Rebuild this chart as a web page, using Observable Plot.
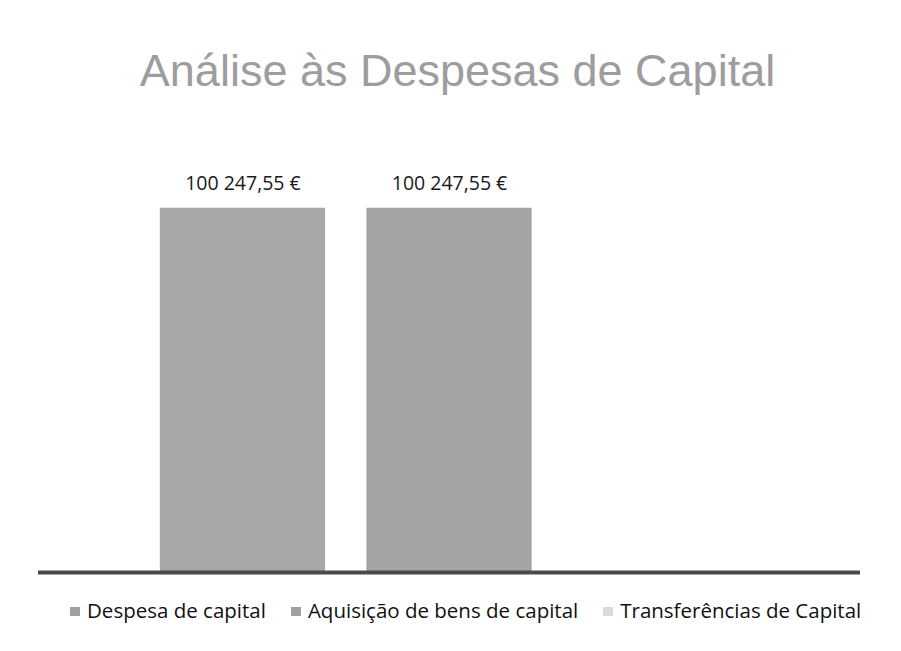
<!DOCTYPE html>
<html>
<head>
<meta charset="utf-8">
<script src="https://cdn.jsdelivr.net/npm/d3@7"></script>
<script src="https://cdn.jsdelivr.net/npm/@observablehq/plot@0.6"></script>
<style>
  html, body { margin: 0; padding: 0; background: #fff; }
  #wrap { width: 901px; height: 651px; position: relative; overflow: hidden; }
  #title { height: 115px; box-sizing: border-box; padding-top: 45px; padding-left: 14px; text-align: center;
    font-family: "Liberation Sans", Arial, sans-serif; font-size: 45px; color: #9d9d9d; line-height: 52px; white-space: nowrap; }
  #chart { height: 465px; }
  #legend { display: flex; justify-content: flex-start; padding-left: 70px; padding-top: 18px;
    font-family: "Open Sans", sans-serif; font-size: 20.5px; color: #111; line-height: 24px; white-space: nowrap; }
  .item { display: flex; align-items: center; margin-right: 25px; }
  .sw { width: 10px; height: 9px; display: inline-block; margin-right: 7px; margin-top: 3px; }
</style>
</head>
<body>
<div id="wrap">
  <div id="title">Análise às Despesas de Capital</div>
  <div id="chart"></div>
  <div id="legend"></div>
</div>
<script>
const series = ["Despesa de capital", "Aquisição de bens de capital", "Transferências de Capital"];
const values = [100247.55, 100247.55, 0];
const colors = ["#a7a7a7", "#a4a4a4", "#d6d6d6"];
const legendColors = ["#a0a0a0", "#a0a0a0", "#d9d9d9"];
const labels = ["100 247,55 €", "100 247,55 €", null];

const data = series.map((s, i) => ({series: s, value: values[i], label: labels[i]}));

const chart = Plot.plot({
  width: 901,
  height: 465,
  marginLeft: 38,
  marginRight: 41,
  marginTop: 21,
  marginBottom: 8,
  x: {type: "band", domain: series, paddingInner: 0.2, paddingOuter: 0.59, round: false, axis: null},
  y: {domain: [0, 120000], axis: null},
  color: {domain: series, range: colors},
  marks: [
    Plot.barY(data, {x: "series", y: "value", fill: "series"}),
    Plot.text(data.filter(d => d.label), {x: "series", y: "value", text: "label", dy: -25,
      fontSize: 19.5, fill: "#1a1a1a", fontFamily: "Open Sans, sans-serif"}),
    Plot.ruleY([0], {stroke: "#4a4a4a", strokeWidth: 4})
  ],
  style: {background: "#fff", overflow: "visible"}
});
document.getElementById("chart").appendChild(chart);

const legend = document.getElementById("legend");
series.forEach((s, i) => {
  const it = document.createElement("div");
  it.className = "item";
  const sw = document.createElement("span");
  sw.className = "sw";
  sw.style.background = legendColors[i];
  const t = document.createElement("span");
  t.textContent = s;
  it.appendChild(sw); it.appendChild(t);
  legend.appendChild(it);
});
</script>
</body>
</html>
